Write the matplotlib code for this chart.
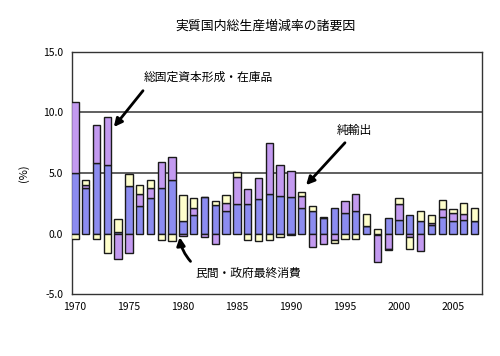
import matplotlib
matplotlib.use("Agg")
import matplotlib.pyplot as plt
import numpy as np

plt.rcParams['font.family'] = ['Noto Sans CJK JP', 'DejaVu Sans']

years = list(range(1970, 2008))
consumption = [5.0, 3.75, 5.8, 5.7, 0.1, 3.9, 2.3, 2.9, 3.8, 4.4,
               1.0, 1.55, 3.05, 2.35, 1.85, 2.4, 2.4, 2.85, 3.25, 3.1,
               3.0, 2.1, 1.9, 1.25, 2.1, 1.7, 1.9, 0.65, -0.15, 1.25,
               1.1, 1.5, 1.0, 0.7, 1.35, 1.0, 1.15, 1.0]
investment = [5.85, 0.3, 3.15, 3.95, -2.1, -1.6, 1.0, 0.9, 2.1, 1.9,
              -0.2, 0.6, -0.25, -0.9, 0.7, 2.25, 1.25, 1.75, 4.2, 2.55,
              2.2, 1.0, -1.15, -0.9, -0.5, 0.95, 1.4, 0.0, -2.2, -1.3,
              1.3, -0.3, -1.45, 0.15, 0.7, 0.7, 0.5, 0.0]
net_exports = [-0.45, 0.4, -0.45, -1.6, 1.1, 1.0, 0.7, 0.65, -0.5, -0.65,
               2.2, 0.75, 0.0, 0.3, 0.6, 0.4, -0.55, -0.65, -0.55, -0.3,
               -0.1, 0.35, 0.35, 0.15, -0.25, -0.45, -0.45, 0.95, 0.35, -0.05,
               0.55, -0.95, 0.85, 0.65, 0.7, 0.3, 0.85, 1.15]

series = [consumption, investment, net_exports]
colors = ['#8c8cf0', '#c39af0', '#ffffcc']

fig = plt.figure(figsize=(5.0, 3.56), dpi=100)
ax = fig.add_axes([0.143, 0.174, 0.820, 0.680])

x = np.array(years, dtype=float)
pos_base = np.zeros(len(years))
neg_base = np.zeros(len(years))
for vals, col in zip(series, colors):
    v = np.array(vals)
    bottom = np.where(v >= 0, pos_base, neg_base)
    ax.bar(x, v, bottom=bottom, width=0.68, color=col, edgecolor='#1a1a1a',
           linewidth=1.0, zorder=3)
    pos_base = pos_base + np.where(v >= 0, v, 0)
    neg_base = neg_base + np.where(v < 0, v, 0)

ax.set_xlim(1969.68, 2007.64)
ax.set_ylim(-5, 15)
ax.set_yticks([-5, 0, 5, 10, 15])
ax.set_yticklabels(['-5.0', '0.0', '5.0', '10.0', '15.0'])
ax.set_xticks(list(range(1970, 2006, 5)))
ax.tick_params(axis='both', length=0, labelsize=7.5, pad=6)
for yv in [5, 10]:
    ax.axhline(yv, color='#444444', linewidth=1.2, zorder=1)
for s in ax.spines.values():
    s.set_color('#333333')
    s.set_linewidth(1.0)

ax.set_ylabel('(%)', fontsize=8, labelpad=10)
fig.text(0.53, 0.925, '実質国内総生産増減率の諸要因', ha='center', va='center', fontsize=9.3)

ap = dict(arrowstyle='-|>', color='black', lw=2.0, mutation_scale=12, shrinkA=0, shrinkB=0)
ax.text(1976.4, 12.9, '総固定資本形成・在庫品', fontsize=8.5, ha='left', va='center', zorder=5)
ax.annotate('', xy=(1973.6, 8.8), xytext=(1976.3, 11.8), arrowprops=ap, zorder=5)

ax.text(1995.9, 8.5, '純輸出', fontsize=8.5, ha='center', va='center', zorder=5)
ax.annotate('', xy=(1991.4, 4.0), xytext=(1995.0, 7.5), arrowprops=ap, zorder=5)

ax.text(1986.0, -3.3, '民間・政府最終消費', fontsize=8.5, ha='center', va='center', zorder=5)
ap2 = dict(ap, connectionstyle='arc3,rad=-0.15')
ax.annotate('', xy=(1979.7, -0.3), xytext=(1980.7, -2.3), arrowprops=ap2, zorder=5)

fig.savefig('out.png', dpi=100)
